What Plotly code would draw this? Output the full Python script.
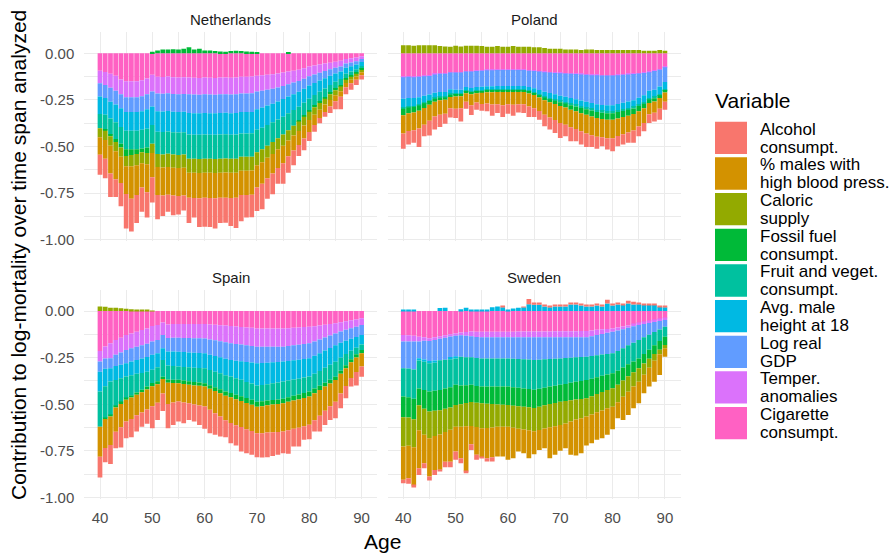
import plotly.graph_objects as go

ages = list(range(40, 91))
countries = ["Netherlands", "Poland", "Spain", "Sweden"]
variables = ["Alcohol consumpt.", "% males with high blood press.", "Caloric supply",
             "Fossil fuel consumpt.", "Fruit and veget. consumpt.", "Avg. male height at 18",
             "Log real GDP", "Temper. anomalies", "Cigarette consumpt."]
legend_lines = [("Alcohol", "consumpt."), ("% males with", "high blood press."), ("Caloric", "supply"),
                ("Fossil fuel", "consumpt."), ("Fruit and veget.", "consumpt."), ("Avg. male", "height at 18"),
                ("Log real", "GDP"), ("Temper.", "anomalies"), ("Cigarette", "consumpt.")]
colors = ["#F8766D", "#D39200", "#93AA00", "#00BA38", "#00C19F", "#00B9E3", "#619CFF", "#DB72FB", "#FF61C3"]
x_ticks = [40, 50, 60, 70, 80, 90]
y_ticks = [0, -0.25, -0.5, -0.75, -1.0]
y_ticktext = ["0.00", "-0.25", "-0.50", "-0.75", "-1.00"]

# ---------------- Netherlands ----------------
nl_alc = [-0.107, -0.105, -0.125, -0.095, -0.125, -0.185, -0.175, -0.150, -0.130, -0.135, -0.135,
          -0.130, -0.110, -0.090, -0.105, -0.100, -0.080, -0.135, -0.105, -0.155, -0.155, -0.155,
          -0.162, -0.135, -0.135, -0.150, -0.162, -0.140, -0.120, -0.120, -0.125, -0.137, -0.110,
          -0.111, -0.085, -0.110, -0.088, -0.079, -0.059, -0.063, -0.048, -0.036, -0.028, -0.025,
          -0.035, -0.043, -0.067, -0.038, -0.034, -0.028, -0.023]
nl_males = [-0.094, -0.100, -0.150, -0.150, -0.140, -0.150, -0.175, -0.160, -0.130, -0.150, -0.130,
            -0.150, -0.150, -0.150, -0.150, -0.150, -0.150,
            -0.135, -0.135, -0.135, -0.135, -0.135, -0.135, -0.135, -0.135, -0.135, -0.135,
            -0.130, -0.130, -0.130,
            -0.120, -0.115, -0.110, -0.105, -0.100, -0.095, -0.085, -0.080, -0.075, -0.070, -0.065,
            -0.055, -0.045, -0.040, -0.035, -0.032, -0.030, -0.023, -0.020, -0.018, -0.015]
nl_cal = [-0.048, -0.050, -0.050, -0.050, -0.050, -0.055, -0.060, -0.060, -0.060, -0.060, -0.050,
          -0.070, -0.070, -0.070, -0.070, -0.070, -0.070,
          -0.075, -0.075, -0.075, -0.075, -0.075, -0.075, -0.075, -0.075, -0.075, -0.075,
          -0.075, -0.075, -0.075,
          -0.070, -0.070, -0.065, -0.065, -0.060, -0.060, -0.055, -0.052, -0.050, -0.047, -0.044,
          -0.040, -0.036, -0.032, -0.030, -0.027, -0.025, -0.018, -0.016, -0.014, -0.012]
nl_fossil = [0.0, -0.005, -0.010, -0.015, -0.020, -0.035, -0.030, -0.025, -0.020, -0.030, 0.008,
             0.015, 0.020, 0.020, 0.022, 0.020, 0.025, 0.032, 0.020, 0.025, 0.015, 0.015,
             0.012, 0.010, 0.008, 0.012, 0.014, 0.012, 0.010, 0.008, 0.003, 0.0, 0.0,
             0.0, 0.0, 0.0, 0.003, 0.0, -0.008, -0.008, -0.008, -0.008, -0.008, -0.008,
             -0.008, -0.008, -0.008, -0.008, -0.008, -0.008, -0.008]
nl_fruit = [-0.077, -0.080, -0.085, -0.090, -0.090, -0.100, -0.100, -0.100, -0.100, -0.100, -0.100,
            -0.120, -0.120, -0.120, -0.120, -0.120, -0.120,
            -0.130, -0.130, -0.130, -0.130, -0.130, -0.130, -0.130, -0.130, -0.130, -0.130,
            -0.125, -0.125, -0.125,
            -0.120, -0.115, -0.110, -0.105, -0.100, -0.095, -0.090, -0.085, -0.072, -0.067, -0.062,
            -0.057, -0.052, -0.047, -0.042, -0.037, -0.032, -0.024, -0.020, -0.017, -0.014]
nl_height = [-0.093, -0.090, -0.090, -0.095, -0.100, -0.100, -0.100, -0.100, -0.100, -0.105, -0.100,
             -0.110, -0.110, -0.110, -0.110, -0.110, -0.110,
             -0.115, -0.115, -0.115, -0.115, -0.115, -0.115, -0.115, -0.115, -0.115, -0.115,
             -0.115, -0.115, -0.115,
             -0.110, -0.108, -0.105, -0.100, -0.097, -0.095, -0.090, -0.085, -0.080, -0.075, -0.070,
             -0.065, -0.060, -0.055, -0.050, -0.045, -0.040, -0.032, -0.028, -0.025, -0.022]
nl_gdp = [-0.071, -0.070, -0.075, -0.075, -0.075, -0.080, -0.080, -0.080, -0.080, -0.080, -0.080,
          -0.095, -0.095, -0.095, -0.095, -0.095, -0.095,
          -0.100, -0.100, -0.100, -0.100, -0.100, -0.100, -0.100, -0.100, -0.100, -0.100,
          -0.100, -0.100, -0.100,
          -0.095, -0.090, -0.085, -0.080, -0.075, -0.070, -0.066, -0.062, -0.058, -0.054, -0.050,
          -0.046, -0.042, -0.038, -0.034, -0.031, -0.028, -0.022, -0.020, -0.018, -0.015]
nl_temp = [-0.068, -0.070, -0.075, -0.080, -0.080, -0.085, -0.085, -0.085, -0.085, -0.085, -0.090,
           -0.090, -0.090, -0.090, -0.090, -0.090, -0.090,
           -0.090, -0.090, -0.090, -0.090, -0.090, -0.090, -0.090, -0.090, -0.090, -0.090,
           -0.090, -0.090, -0.090,
           -0.085, -0.083, -0.080, -0.078, -0.075, -0.072, -0.068, -0.064, -0.060, -0.056, -0.052,
           -0.048, -0.044, -0.040, -0.036, -0.032, -0.030, -0.025, -0.022, -0.020, -0.016]
nl_cig = [-0.093, -0.100, -0.110, -0.120, -0.140, -0.150, -0.150, -0.150, -0.145, -0.135, -0.115,
          -0.125, -0.127, -0.124, -0.128, -0.130, -0.128,
          -0.130, -0.131, -0.132, -0.130, -0.131, -0.132, -0.130, -0.129, -0.131, -0.130,
          -0.125, -0.125, -0.124,
          -0.120, -0.118, -0.115, -0.112, -0.108, -0.103, -0.098, -0.093, -0.088, -0.080, -0.071,
          -0.065, -0.060, -0.055, -0.050, -0.045, -0.040, -0.030, -0.027, -0.022, -0.015]

# ---------------- Poland ----------------
pl_alc = [-0.082, -0.072, -0.068, -0.099, -0.062, -0.080, -0.070, -0.065, -0.053, -0.050, -0.050,
          -0.070, -0.038, -0.052, -0.038, -0.036, -0.042, -0.061, -0.047, -0.064, -0.051, -0.059,
          -0.044, -0.047, -0.057, -0.048, -0.047, -0.062, -0.065, -0.070, -0.081, -0.062, -0.075,
          -0.066, -0.071, -0.072, -0.063, -0.065, -0.048, -0.060, -0.069, -0.054, -0.055, -0.055,
          -0.066, -0.053, -0.045, -0.047, -0.047, -0.059, -0.042]
pl_males = [-0.098, -0.095, -0.095, -0.095, -0.090, -0.085, -0.080, -0.078, -0.075, -0.060, -0.065,
            -0.065, -0.045, -0.060, -0.050, -0.060, -0.060, -0.065, -0.065, -0.070, -0.065, -0.068,
            -0.065, -0.065, -0.070, -0.070, -0.072, -0.078, -0.082, -0.085, -0.090, -0.092, -0.095,
            -0.095, -0.097, -0.100, -0.100, -0.100, -0.098, -0.100, -0.100, -0.095, -0.092, -0.090,
            -0.088, -0.082, -0.078, -0.060, -0.060, -0.058, -0.050]
pl_cal = [0.044, 0.044, 0.041, 0.044, 0.044, 0.043, 0.044, 0.039, 0.037, 0.036, 0.041,
          0.037, 0.041, 0.041, 0.041, 0.039, 0.036, 0.036, 0.039, 0.036, 0.036, 0.039,
          0.036, 0.036, 0.036, 0.032, 0.032, 0.028, 0.025, 0.025, 0.025, 0.021, 0.021,
          0.021, 0.018, 0.021, 0.021, 0.018, 0.018, 0.018, 0.018, 0.018, 0.018, 0.018,
          0.018, 0.018, 0.014, 0.014, 0.014, 0.018, 0.014]
pl_fossil = [-0.035, -0.032, -0.030, -0.028, -0.025, -0.020, -0.016, -0.014, -0.012, -0.012, -0.010,
             -0.010, -0.008, -0.008, -0.008, -0.008, -0.008, -0.008, -0.008, -0.008, -0.008, -0.008,
             -0.008, -0.008, -0.009, -0.010, -0.012, -0.014, -0.016, -0.018, -0.020, -0.022, -0.024,
             -0.026, -0.028, -0.030, -0.032, -0.033, -0.034, -0.035, -0.035, -0.034, -0.033, -0.032,
             -0.030, -0.027, -0.024, -0.020, -0.017, -0.014, -0.010]
pl_fruit = [-0.005, -0.005, -0.005, -0.005, -0.005, -0.005, -0.005, -0.005, -0.005, -0.005, -0.005,
            -0.005, -0.005, -0.005, -0.005, -0.005, -0.005, -0.005, -0.005, -0.005, -0.005, -0.005,
            -0.005, -0.005, -0.005, -0.005, -0.006, -0.006, -0.007, -0.007, -0.008, -0.008, -0.009,
            -0.009, -0.010, -0.010, -0.010, -0.010, -0.010, -0.010, -0.010, -0.010, -0.010, -0.010,
            -0.010, -0.009, -0.009, -0.008, -0.008, -0.007, -0.006]
pl_height = [-0.048, -0.045, -0.042, -0.040, -0.035, -0.030, -0.027, -0.025, -0.025, -0.024, -0.022,
             -0.020, -0.020, -0.020, -0.020, -0.020, -0.020, -0.020, -0.020, -0.020, -0.020, -0.020,
             -0.020, -0.020, -0.020, -0.022, -0.023, -0.025, -0.026, -0.027, -0.028, -0.028, -0.029,
             -0.030, -0.030, -0.030, -0.030, -0.031, -0.031, -0.032, -0.032, -0.033, -0.034, -0.035,
             -0.035, -0.036, -0.037, -0.038, -0.038, -0.040, -0.040]
pl_gdp = [-0.116, -0.115, -0.112, -0.110, -0.105, -0.100, -0.098, -0.098, -0.097, -0.090, -0.092,
          -0.092, -0.083, -0.088, -0.086, -0.086, -0.085, -0.085, -0.085, -0.085, -0.085, -0.085,
          -0.085, -0.085, -0.088, -0.092, -0.098, -0.105, -0.110, -0.115, -0.120, -0.125, -0.130,
          -0.135, -0.140, -0.145, -0.150, -0.155, -0.158, -0.160, -0.160, -0.155, -0.150, -0.145,
          -0.140, -0.130, -0.120, -0.100, -0.100, -0.090, -0.080]
pl_temp = [-0.003, -0.003, -0.003, -0.003, -0.003, -0.003, -0.003, -0.003, -0.003, -0.003,
           -0.003, -0.003, -0.003, -0.003, -0.003, -0.003, -0.003, -0.003, -0.003, -0.003,
           -0.003, -0.003, -0.003, -0.003, -0.003, -0.003, -0.003, -0.003, -0.003, -0.003,
           -0.003, -0.003, -0.003, -0.003, -0.003, -0.003, -0.003, -0.003, -0.003, -0.003,
           -0.003, -0.003, -0.003, -0.003, -0.003, -0.003, -0.003, -0.003, -0.003, -0.003,
           -0.003]
pl_cig = [-0.125, -0.122, -0.125, -0.122, -0.120, -0.118, -0.110, -0.107, -0.107, -0.100, -0.100,
          -0.100, -0.095, -0.095, -0.092, -0.090, -0.088, -0.088, -0.087, -0.087, -0.087, -0.087,
          -0.087, -0.087, -0.090, -0.092, -0.095, -0.098, -0.100, -0.102, -0.104, -0.105, -0.107,
          -0.108, -0.110, -0.112, -0.114, -0.115, -0.116, -0.116, -0.116, -0.114, -0.112, -0.110,
          -0.108, -0.105, -0.102, -0.098, -0.092, -0.085, -0.071]

# ---------------- Spain ----------------
es_alc = [-0.112, -0.077, -0.103, -0.088, -0.109, -0.090, -0.098, -0.087, -0.076, -0.077, -0.118,
          -0.092, -0.094, -0.130, -0.120, -0.108, -0.111, -0.089, -0.092, -0.105, -0.120, -0.125,
          -0.116, -0.107, -0.091, -0.108, -0.109, -0.132, -0.129, -0.127, -0.128, -0.131, -0.132,
          -0.127, -0.122, -0.117, -0.127, -0.095, -0.101, -0.073, -0.078, -0.060, -0.084, -0.076,
          -0.073, -0.089, -0.079, -0.066, -0.046, -0.073, -0.054]
es_males = [-0.161, -0.155, -0.152, -0.130, -0.125, -0.116, -0.115, -0.110, -0.108, -0.107, -0.107,
            -0.100, -0.077, -0.115, -0.105, -0.098, -0.100, -0.100, -0.102, -0.105, -0.107, -0.113,
            -0.119, -0.125, -0.132, -0.138, -0.139, -0.140, -0.141, -0.142, -0.143, -0.145, -0.147,
            -0.149, -0.150, -0.152, -0.152, -0.152, -0.152, -0.152, -0.152, -0.145, -0.138, -0.130,
            -0.123, -0.116, -0.105, -0.095, -0.085, -0.078, -0.071]
es_cal = [0.025, 0.023, 0.018, 0.017, 0.015, 0.012, 0.009, 0.007, 0.005, 0.004, 0.002,
          0.0, 0.0, 0.0, 0.0, 0.0, 0.0, 0.0, 0.0, 0.0, 0.0, 0.0,
          0.0, 0.0, 0.0, 0.0, 0.0, 0.0, 0.0, 0.0, 0.0, 0.0, 0.0,
          0.0, 0.0, 0.0, 0.0, 0.0, 0.0, 0.0, 0.0, 0.0, 0.0, 0.0,
          0.0, 0.0, 0.0, 0.0, 0.0, 0.0, 0.0]
es_fossil = [0.0, -0.005, -0.009, -0.008, -0.008, -0.009, -0.010, -0.012, -0.014, -0.016, -0.018,
             -0.016, -0.013, -0.017, -0.018, -0.018, -0.018, -0.018, -0.018, -0.018, -0.018, -0.019,
             -0.020, -0.021, -0.022, -0.023, -0.024, -0.025, -0.026, -0.026, -0.027, -0.026, -0.025,
             -0.024, -0.024, -0.023, -0.024, -0.025, -0.026, -0.026, -0.027, -0.025, -0.023, -0.021,
             -0.020, -0.018, -0.017, -0.016, -0.016, -0.017, -0.018]
es_fruit = [-0.188, -0.170, -0.179, -0.140, -0.130, -0.116, -0.110, -0.100, -0.090, -0.080, -0.071,
            -0.075, -0.089, -0.075, -0.073, -0.071, -0.073, -0.075, -0.077, -0.078, -0.080, -0.082,
            -0.084, -0.086, -0.088, -0.089, -0.088, -0.088, -0.087, -0.087, -0.086, -0.087, -0.088,
            -0.090, -0.092, -0.093, -0.090, -0.088, -0.085, -0.083, -0.080, -0.080, -0.080, -0.080,
            -0.080, -0.080, -0.070, -0.060, -0.045, -0.035, -0.030]
es_height = [-0.107, -0.095, -0.071, -0.075, -0.072, -0.071, -0.073, -0.075, -0.077, -0.078, -0.080,
             -0.075, -0.063, -0.075, -0.078, -0.080, -0.080, -0.080, -0.080, -0.080, -0.080, -0.082,
             -0.084, -0.086, -0.088, -0.089, -0.095, -0.100, -0.107, -0.113, -0.120, -0.118, -0.115,
             -0.112, -0.110, -0.107, -0.105, -0.103, -0.102, -0.100, -0.098, -0.096, -0.094, -0.092,
             -0.090, -0.089, -0.080, -0.072, -0.065, -0.058, -0.050]
es_gdp = [-0.054, -0.054, -0.054, -0.060, -0.065, -0.071, -0.071, -0.071, -0.071, -0.071, -0.071,
          -0.071, -0.071, -0.073, -0.074, -0.075, -0.076, -0.077, -0.078, -0.079, -0.080, -0.082,
          -0.084, -0.086, -0.088, -0.089, -0.089, -0.089, -0.089, -0.089, -0.089, -0.088, -0.086,
          -0.084, -0.082, -0.080, -0.080, -0.080, -0.080, -0.080, -0.080, -0.077, -0.074, -0.070,
          -0.067, -0.063, -0.060, -0.058, -0.056, -0.055, -0.054]
es_temp = [-0.057, -0.065, -0.080, -0.080, -0.080, -0.080, -0.080, -0.080, -0.082, -0.083, -0.084,
           -0.080, -0.068, -0.072, -0.073, -0.073, -0.074, -0.075, -0.076, -0.076, -0.077, -0.080,
           -0.083, -0.086, -0.090, -0.093, -0.094, -0.095, -0.096, -0.097, -0.098, -0.098, -0.098,
           -0.098, -0.098, -0.098, -0.096, -0.094, -0.093, -0.091, -0.089, -0.082, -0.075, -0.068,
           -0.061, -0.054, -0.050, -0.046, -0.042, -0.039, -0.036]
es_cig = [-0.214, -0.190, -0.173, -0.155, -0.143, -0.129, -0.120, -0.111, -0.102, -0.093, -0.080,
          -0.075, -0.061, -0.072, -0.070, -0.070, -0.070, -0.070, -0.070, -0.070, -0.070, -0.072,
          -0.074, -0.076, -0.078, -0.080, -0.083, -0.085, -0.088, -0.090, -0.093, -0.093, -0.093,
          -0.093, -0.093, -0.093, -0.092, -0.090, -0.088, -0.086, -0.084, -0.081, -0.078, -0.074,
          -0.070, -0.066, -0.060, -0.055, -0.050, -0.045, -0.039]

# ---------------- Sweden ----------------
se_alc = [-0.018, -0.030, -0.010, -0.036, -0.027, -0.021, -0.027, -0.010, -0.030, -0.030, -0.045,
          -0.027, -0.010, -0.030, -0.027, -0.005, -0.018, -0.023, 0.0, 0.005, 0.0, 0.0,
          0.0, 0.003, 0.027, 0.012, 0.012, 0.005, 0.005, 0.005, 0.005, 0.010, 0.010,
          0.010, 0.010, 0.005, 0.005, 0.005, 0.005, 0.020, 0.005, 0.010, 0.008, 0.015,
          0.015, 0.008, 0.008, 0.008, 0.008, 0.008, 0.008]
se_males = [-0.178, -0.174, -0.205, -0.203, -0.152, -0.206, -0.182, -0.189, -0.159, -0.171, -0.133,
            -0.169, -0.242, -0.099, -0.149, -0.155, -0.162, -0.160, -0.159, -0.159, -0.178, -0.163,
            -0.123, -0.127, -0.150, -0.123, -0.107, -0.106, -0.166, -0.153, -0.139, -0.133, -0.178,
            -0.193, -0.188, -0.155, -0.154, -0.148, -0.149, -0.142, -0.121, -0.086, -0.124, -0.124,
            -0.116, -0.116, -0.099, -0.101, -0.113, -0.111, -0.045]
se_cal = [-0.157, -0.152, -0.150, -0.135, -0.140, -0.143, -0.135, -0.130, -0.125, -0.120, -0.116,
          -0.120, -0.125, -0.128, -0.130, -0.134, -0.130, -0.125, -0.120, -0.118, -0.116, -0.118,
          -0.120, -0.122, -0.123, -0.125, -0.125, -0.125, -0.125, -0.125, -0.125, -0.120, -0.114,
          -0.108, -0.103, -0.098, -0.098, -0.098, -0.099, -0.099, -0.099, -0.094, -0.088, -0.083,
          -0.077, -0.072, -0.060, -0.048, -0.036, -0.025, -0.018]
se_fossil = [-0.111, -0.108, -0.110, -0.090, -0.100, -0.107, -0.108, -0.108, -0.108, -0.108, -0.108,
             -0.100, -0.095, -0.092, -0.090, -0.090, -0.092, -0.094, -0.096, -0.098, -0.099, -0.099,
             -0.099, -0.098, -0.098, -0.098, -0.096, -0.094, -0.093, -0.092, -0.090, -0.092, -0.094,
             -0.095, -0.097, -0.098, -0.094, -0.090, -0.087, -0.083, -0.080, -0.075, -0.069, -0.064,
             -0.058, -0.053, -0.051, -0.049, -0.047, -0.046, -0.044]
se_fruit = [-0.152, -0.155, -0.158, -0.150, -0.152, -0.152, -0.150, -0.160, -0.155, -0.150, -0.142,
            -0.155, -0.150, -0.148, -0.150, -0.151, -0.151, -0.151, -0.151, -0.151, -0.151, -0.153,
            -0.155, -0.157, -0.158, -0.160, -0.156, -0.152, -0.148, -0.145, -0.142, -0.139, -0.135,
            -0.131, -0.128, -0.125, -0.122, -0.118, -0.114, -0.110, -0.107, -0.106, -0.104, -0.102,
            -0.100, -0.099, -0.090, -0.080, -0.070, -0.062, -0.054]
se_height = [0.005, 0.004, 0.004, -0.012, -0.012, -0.012, -0.012, 0.016, 0.018, -0.012, -0.012,
             0.010, 0.018, 0.003, 0.008, 0.008, 0.005, 0.020, 0.025, 0.020, 0.008, 0.014,
             0.018, 0.020, 0.037, 0.034, 0.034, 0.025, 0.020, 0.025, 0.025, 0.025, 0.035,
             0.035, 0.030, 0.025, 0.025, 0.030, 0.025, 0.040, 0.030, 0.035, 0.032, 0.040,
             0.035, 0.037, 0.032, 0.032, 0.032, 0.022, 0.020]
se_gdp = [-0.143, -0.145, -0.150, -0.090, -0.100, -0.107, -0.110, -0.115, -0.118, -0.110, -0.110,
          -0.115, -0.115, -0.113, -0.113, -0.113, -0.113, -0.113, -0.113, -0.113, -0.113, -0.115,
          -0.117, -0.119, -0.120, -0.122, -0.120, -0.118, -0.116, -0.115, -0.113, -0.111, -0.109,
          -0.107, -0.106, -0.104, -0.106, -0.108, -0.110, -0.113, -0.116, -0.110, -0.102, -0.095,
          -0.088, -0.080, -0.072, -0.063, -0.054, -0.045, -0.036]
se_temp = [-0.035, -0.033, -0.030, -0.025, -0.020, -0.015, -0.015, -0.014, -0.013, -0.012, -0.012,
           -0.015, -0.020, -0.025, -0.028, -0.030, -0.030, -0.030, -0.030, -0.030, -0.030, -0.030,
           -0.030, -0.030, -0.030, -0.030, -0.031, -0.031, -0.031, -0.032, -0.032, -0.032, -0.033,
           -0.033, -0.034, -0.034, -0.031, -0.028, -0.025, -0.021, -0.018, -0.016, -0.014, -0.012,
           -0.010, -0.009, -0.009, -0.009, -0.009, -0.009, -0.009]
se_cig = [-0.129, -0.130, -0.133, -0.138, -0.140, -0.146, -0.140, -0.135, -0.130, -0.125, -0.120,
          -0.115, -0.113, -0.110, -0.111, -0.111, -0.111, -0.111, -0.111, -0.111, -0.111, -0.111,
          -0.110, -0.110, -0.110, -0.110, -0.110, -0.110, -0.110, -0.109, -0.109, -0.109, -0.108,
          -0.108, -0.107, -0.107, -0.104, -0.101, -0.098, -0.096, -0.093, -0.088, -0.083, -0.077,
          -0.072, -0.066, -0.060, -0.055, -0.050, -0.045, -0.039]

data = {
    "Netherlands": [nl_alc, nl_males, nl_cal, nl_fossil, nl_fruit, nl_height, nl_gdp, nl_temp, nl_cig],
    "Poland": [pl_alc, pl_males, pl_cal, pl_fossil, pl_fruit, pl_height, pl_gdp, pl_temp, pl_cig],
    "Spain": [es_alc, es_males, es_cal, es_fossil, es_fruit, es_height, es_gdp, es_temp, es_cig],
    "Sweden": [se_alc, se_males, se_cal, se_fossil, se_fruit, se_height, se_gdp, se_temp, se_cig],
}

W, H = 896, 553


def px(x):
    return x / W


def py(y):
    return 1 - y / H


# panel geometry (pixels)
x_left = (84.3, 377.3)
x_right = (387.6, 680.6)
y_top = (31.9, 240.9)
y_bot = (289.6, 498.6)
panels = [(x_left, y_top), (x_right, y_top), (x_left, y_bot), (x_right, y_bot)]

fig = go.Figure()
for i, c in enumerate(countries):
    sfx = "" if i == 0 else str(i + 1)
    series = data[c]
    # stack order: nearest zero first (Cigarette) ... Alcohol last
    for k in reversed(range(len(variables))):
        fig.add_trace(go.Bar(
            x=ages, y=series[k], name=variables[k],
            xaxis="x" + sfx, yaxis="y" + sfx,
            width=0.9, marker=dict(color=colors[k], line=dict(width=0)),
            showlegend=False,
        ))

grid = "#EBEBEB"
tickfont = dict(family="Liberation Sans, Arial, sans-serif", size=15, color="#4D4D4D")
layout = dict(
    width=W, height=H, margin=dict(l=0, r=0, t=0, b=0),
    paper_bgcolor="white", plot_bgcolor="white", barmode="relative",
    font=dict(family="Liberation Sans, Arial, sans-serif"),
)
for i, ((xd, yd)) in enumerate(panels):
    sfx = "" if i == 0 else str(i + 1)
    layout["xaxis" + sfx] = dict(
        domain=[px(xd[0]), px(xd[1])], anchor="y" + sfx, range=[37, 93],
        tickvals=x_ticks, ticktext=[str(t) for t in x_ticks], showticklabels=(i >= 2),
        showgrid=True, gridcolor=grid, gridwidth=1.3, zeroline=False, showline=False, ticks="",
        tickfont=tickfont, ticklabelstandoff=8,
        minor=dict(tickvals=[45, 55, 65, 75, 85], showgrid=True, gridcolor=grid, gridwidth=0.7),
        automargin=False, fixedrange=True,
    )
    layout["yaxis" + sfx] = dict(
        domain=[py(yd[1]), py(yd[0])], anchor="x" + sfx, range=[-1.006, 0.115],
        tickvals=y_ticks, ticktext=y_ticktext, showticklabels=(i % 2 == 0),
        showgrid=True, gridcolor=grid, gridwidth=1.3, zeroline=False, showline=False, ticks="",
        tickfont=tickfont, ticklabelstandoff=9,
        minor=dict(tickvals=[-0.125, -0.375, -0.625, -0.875], showgrid=True, gridcolor=grid, gridwidth=0.7),
        automargin=False, fixedrange=True,
    )
fig.update_layout(**layout)

annotations = []
shapes = []
# facet strip titles
for i, c in enumerate(countries):
    xd, yd = panels[i]
    annotations.append(dict(x=px((xd[0] + xd[1]) / 2), y=py(yd[0] - 12), xref="paper", yref="paper",
                            text=c, showarrow=False, xanchor="center", yanchor="middle",
                            font=dict(size=15, color="#1A1A1A")))
# axis titles
annotations.append(dict(x=px(382.5), y=py(541), xref="paper", yref="paper", text="Age", showarrow=False,
                        xanchor="center", yanchor="middle", font=dict(size=21, color="black")))
annotations.append(dict(x=px(18), y=py(255), xref="paper", yref="paper",
                        text="Contribution to log-mortality over time span analyzed", showarrow=False,
                        textangle=-90, xanchor="center", yanchor="middle", font=dict(size=21, color="black")))
# legend
annotations.append(dict(x=px(713), y=py(101), xref="paper", yref="paper", text="Variable", showarrow=False,
                        xanchor="left", yanchor="middle", font=dict(size=21, color="black")))
for k in range(len(variables)):
    y0 = 121.7 + k * 35.66
    y1 = y0 + 32.3
    cy = (y0 + y1) / 2
    shapes.append(dict(type="rect", xref="paper", yref="paper", x0=px(715), x1=px(747), y0=py(y1), y1=py(y0),
                       fillcolor=colors[k], line=dict(width=0)))
    l1, l2 = legend_lines[k]
    annotations.append(dict(x=px(758), y=py(cy - 8.6), xref="paper", yref="paper", text=l1, showarrow=False,
                            xanchor="left", yanchor="middle", font=dict(size=17, color="black")))
    annotations.append(dict(x=px(758), y=py(cy + 9.4), xref="paper", yref="paper", text=l2, showarrow=False,
                            xanchor="left", yanchor="middle", font=dict(size=17, color="black")))
fig.update_layout(annotations=annotations, shapes=shapes)

fig.write_html("out.html", config={"displayModeBar": False},
               post_script="document.body.style.margin='0';document.body.style.overflow='hidden';")
